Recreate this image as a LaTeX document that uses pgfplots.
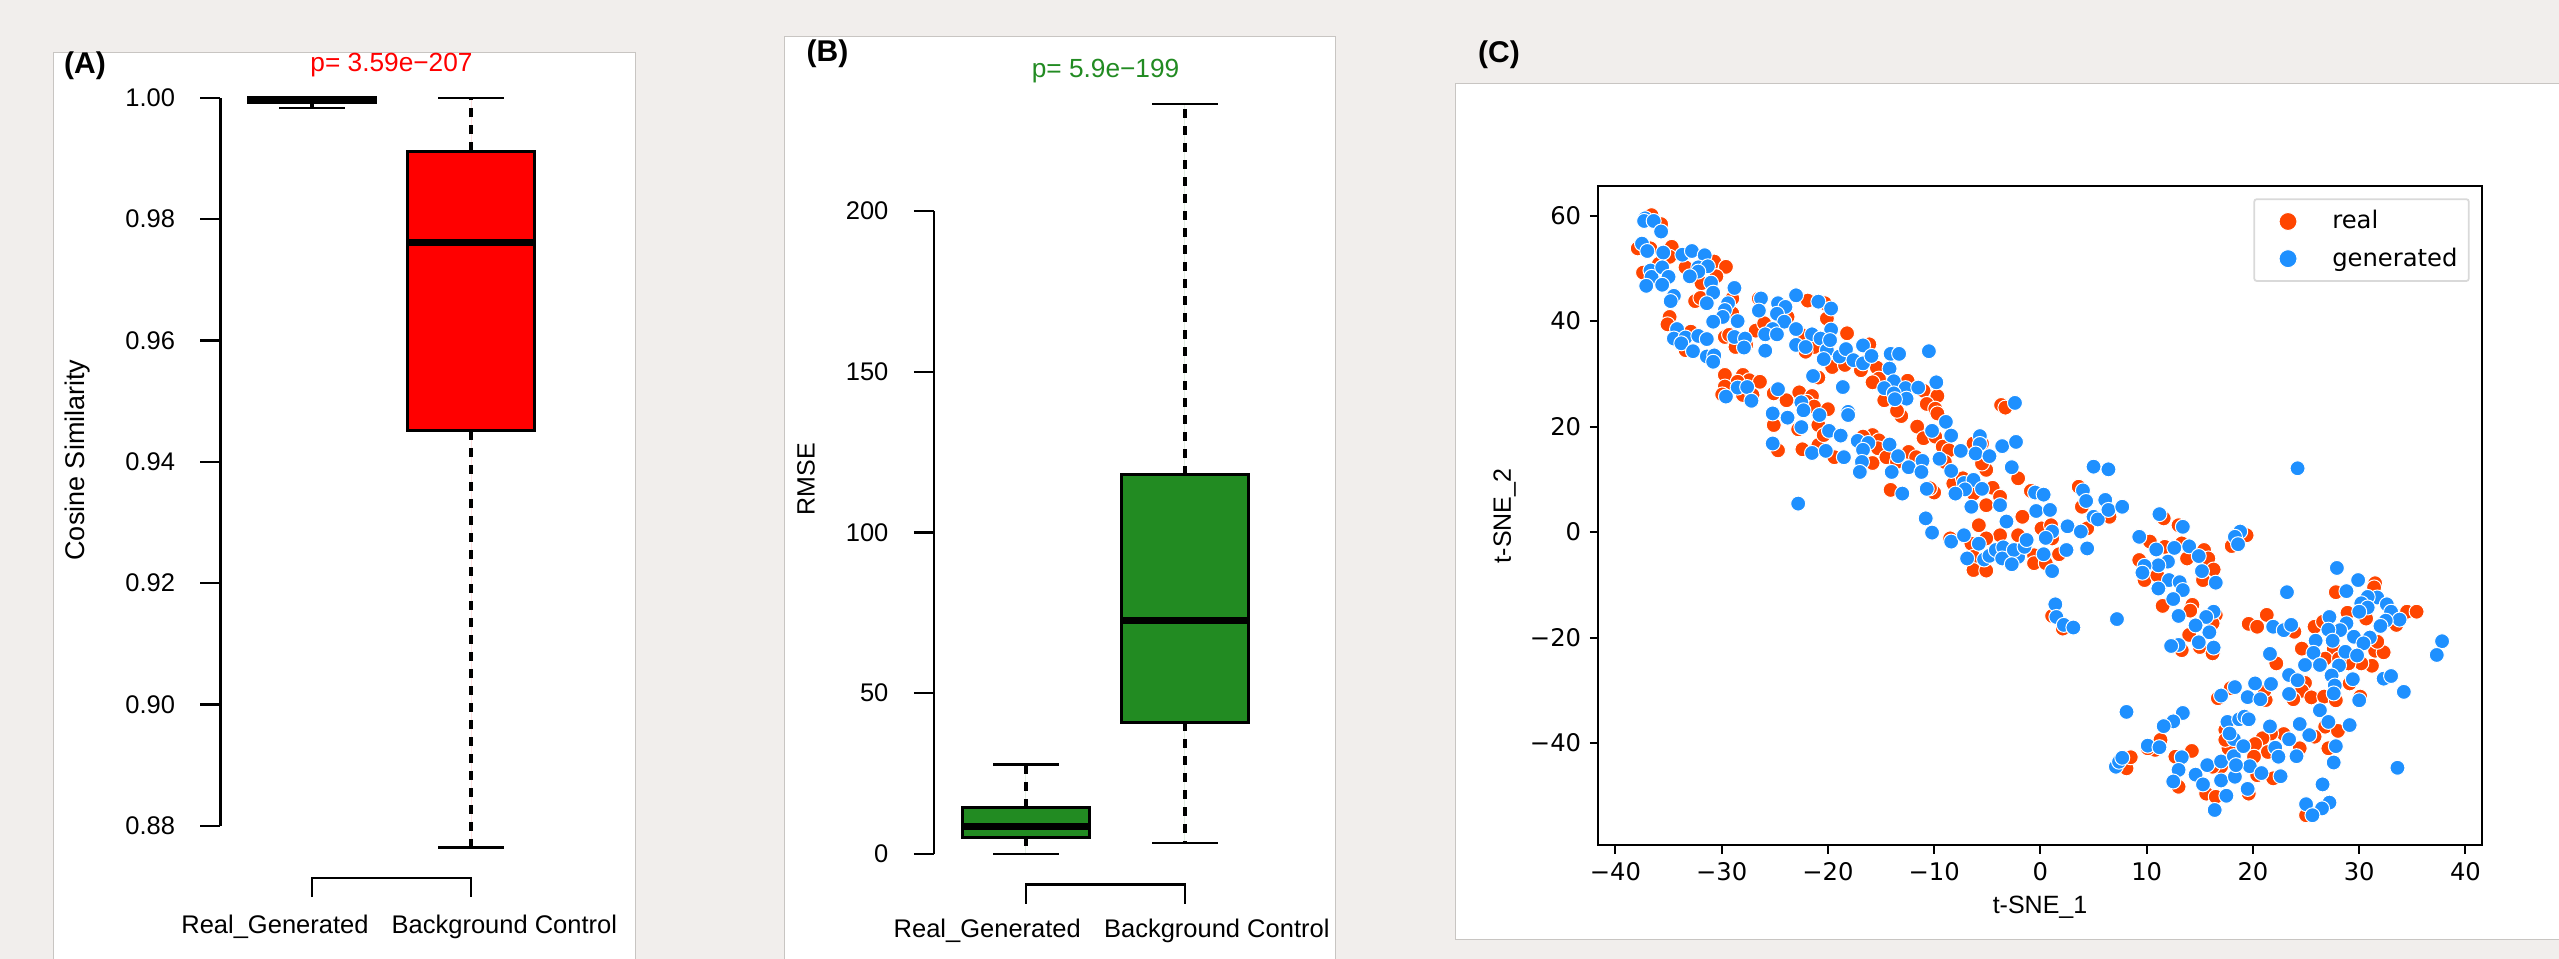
\documentclass[border=0pt]{standalone}
\usepackage{fontspec}
\setmainfont{Liberation Sans}
\newfontfamily\dejavu{DejaVu Sans}
\usepackage{pgfplots}
\pgfplotsset{compat=1.18}
\usepgfplotslibrary{statistics}

\definecolor{pagebg}{HTML}{F1EEEC}
\definecolor{panelline}{HTML}{C8C5C2}
\definecolor{fgreen}{HTML}{228B22}
\definecolor{realc}{HTML}{FF4500}
\definecolor{genc}{HTML}{1E90FF}

% reference pixels to page coordinates
\newcommand{\pp}[2]{(#1*0.4pt,-#2*0.4pt)}
\newcommand{\rfont}{\fontsize{10.2}{12}\selectfont}
\newcommand{\pfont}{\fontsize{10.5}{12}\selectfont}
\newcommand{\pyfont}{\dejavu\fontsize{9.7}{12}\selectfont}

\pgfplotsset{
  rbox/.style={
    clip=false, scale only axis, anchor=south west,
    axis y line=left, axis x line=none,
    axis line style={-, line width=0.9pt},
    tick style={black, line width=0.9pt},
    tick align=outside, major tick length=8pt,
    /pgf/number format/assume math mode=true,
    ticklabel style={font=\rfont},
    y tick label style={inner sep=0pt, xshift=-10pt},
    scaled y ticks=false,
    label style={font=\rfont},
    every axis y label/.style={rotate=90, anchor=center},
    every axis title shift=0pt,
    boxplot/draw direction=y,
    boxplot/every whisker/.style={solid, dash pattern=on 3.6pt off 3.2pt, line width=1.3pt},
    boxplot/every box/.style={line width=1.3pt},
    boxplot/every median/.style={line width=2.7pt},
  },
  rcap/.style={black, line width=0.9pt, forget plot},
}

\begin{document}
\begin{tikzpicture}
\useasboundingbox \pp{0}{0} rectangle \pp{2559}{959};
\fill[pagebg] \pp{0}{0} rectangle \pp{2559}{959};
\filldraw[fill=white, draw=panelline, line width=0.4pt] \pp{53.6}{52.6} rectangle \pp{635}{962};
\filldraw[fill=white, draw=panelline, line width=0.4pt] \pp{784.4}{36.7} rectangle \pp{1335.3}{962};
\filldraw[fill=white, draw=panelline, line width=0.4pt] \pp{1455.7}{83.3} rectangle \pp{2562}{939};

% panel A
\begin{axis}[rbox,
  at={(220.5*0.4pt,-825.7*0.4pt)}, width=138.36pt, height=291.12pt,
  xmin=0.4245, xmax=2.6, ymin=0.88, ymax=1,
  ytick={0.88,0.90,0.92,0.94,0.96,0.98,1.00},
  yticklabel style={/pgf/number format/fixed, /pgf/number format/fixed zerofill, /pgf/number format/precision=2},
  ylabel={Cosine Similarity},
  ylabel style={at={(axis description cs:-0.4127,0.5025)}, font=\fontsize{10.8}{12}\selectfont},
  title={p= 3.59e−207},
  title style={at={(axis description cs:0.4944,1.0452)}, anchor=center, text=red, font=\pfont},
]
\addplot[boxplot prepared={draw position=1, box extend=0.8, whisker extend=0,
    median=0.9996, upper quartile=1.0, lower quartile=0.9992, upper whisker=1.0, lower whisker=0.9983},
    fill=white, draw=black] coordinates {};
\addplot[boxplot prepared={draw position=2, box extend=0.8, whisker extend=0,
    median=0.9762, upper quartile=0.9912, lower quartile=0.9451, upper whisker=1.0, lower whisker=0.8764},
    fill=red, draw=black] coordinates {};
\addplot[rcap] coordinates {(0.795,0.9983) (1.205,0.9983)};
\addplot[rcap] coordinates {(1.795,1.0) (2.205,1.0)};
\addplot[rcap] coordinates {(1.795,0.8764) (2.205,0.8764)};
\addplot[rcap] coordinates {(1,0.86824) (1,0.87143) (2,0.87143) (2,0.86824)};
\node[font=\rfont] at (axis cs:0.767,0.86336) {Real\_Generated};
\node[font=\rfont] at (axis cs:2.21,0.86336) {Background Control};
\end{axis}

% panel B
\begin{axis}[rbox,
  at={(933.9*0.4pt,-853.8*0.4pt)}, width=138.6pt, height=257.12pt,
  xmin=0.4214, xmax=2.6, ymin=0, ymax=200,
  ytick={0,50,100,150,200},
  ylabel={RMSE},
  ylabel style={at={(axis description cs:-0.369,0.583)}},
  title={p= 5.9e−199},
  title style={at={(axis description cs:0.4955,1.2174)}, anchor=center, text=fgreen, font=\pfont},
]
\addplot[boxplot prepared={draw position=1, box extend=0.8, whisker extend=0,
    median=8.6, upper quartile=14.3, lower quartile=5.1, upper whisker=27.8, lower whisker=0},
    fill=fgreen, draw=black] coordinates {};
\addplot[boxplot prepared={draw position=2, box extend=0.8, whisker extend=0,
    median=72.5, upper quartile=118, lower quartile=40.9, upper whisker=233.3, lower whisker=3.4},
    fill=fgreen, draw=black] coordinates {};
\addplot[rcap] coordinates {(0.795,27.8) (1.205,27.8)};
\addplot[rcap] coordinates {(0.795,0) (1.205,0)};
\addplot[rcap] coordinates {(1.795,233.3) (2.205,233.3)};
\addplot[rcap] coordinates {(1.795,3.4) (2.205,3.4)};
\addplot[rcap] coordinates {(1,-15.6) (1,-9.52) (2,-9.52) (2,-15.6)};
\node[font=\rfont] at (axis cs:0.757,-24) {Real\_Generated};
\node[font=\rfont] at (axis cs:2.2,-24) {Background Control};
\end{axis}

% panel C
\begin{axis}[
  at={(1598.2*0.4pt,-845.3*0.4pt)}, anchor=south west, scale only axis,
  width=353.56pt, height=263.84pt,
  xmin=-41.62, xmax=41.57, ymin=-59.4, ymax=65.69,
  axis line style={line width=0.8pt},
  tick style={black, line width=0.8pt},
  tick align=outside, major tick length=3.3pt,
  xtick pos=bottom, ytick pos=left,
  xtick={-40,-30,...,40}, ytick={-40,-20,...,60},
  xticklabels={−40,−30,−20,−10,0,10,20,30,40},
  yticklabels={−40,−20,0,20,40,60},
  ticklabel style={font=\pyfont},
  xlabel={t-SNE\_1}, ylabel={t-SNE\_2},
  label style={font=\pyfont},
  every axis x label/.style={at={(axis description cs:0.4998,-0.0935)}, anchor=center},
  every axis y label/.style={at={(axis description cs:-0.1059,0.4992)}, rotate=90, anchor=center},
  legend cell align=left,
  legend image code/.code={\path[draw=none] (-11pt,0pt) -- (15.7pt,0pt);\draw[#1, mark size=3.6pt] plot coordinates {(0cm,0cm)};},
  legend style={at={(0.9859,0.9809)}, anchor=north east, font=\pyfont,
    draw=black!15, line width=0.7pt, rounded corners=1pt,
    inner xsep=2.5pt, inner ysep=2.5pt, row sep=2pt},
  real/.style={only marks, mark=*, mark size=3pt, mark options={fill=realc, draw=white, line width=0.4pt}},
  gen/.style={only marks, mark=*, mark size=3pt, mark options={fill=genc, draw=white, line width=0.4pt}},
]
\addplot[real] coordinates {
(-36.6,60.1)(-35.7,58.4)(-37.9,53.8)(-36.7,53.8)(-34.7,54.1)(-34.9,52.2)(-35.9,50.9)(-37.4,49.2)
(-30.7,51.3)(-29.6,50.3)(-33.4,50.2)(-30.5,48.5)(-31.9,47.2)(-32.5,43.8)(-32.0,44.4)(-34.9,40.8)
(-35.1,39.4)(-29.0,44.3)(-29.0,41.5)(-32.9,38.0)(-33.4,34.5)(-29.7,37.0)(-29.3,37.4)(-26.8,38.2)
(-26.0,39.6)(-27.7,35.5)(-28.7,35.1)(-23.8,40.8)(-26.5,44.3)(-21.9,43.9)(-20.3,43.4)(-20.1,40.5)
(-22.5,37.4)(-21.3,35.1)(-22.1,34.2)(-18.2,37.7)(-16.1,35.6)(-19.6,31.3)(-18.4,31.7)(-16.9,30.7)
(-15.4,31.2)(-15.2,29.1)(-15.8,28.4)(-12.5,28.7)(-11.0,26.8)(-9.7,25.8)(-10.7,24.3)(-9.9,23.4)
(-9.7,22.5)(-13.1,22.0)(-13.5,23.0)(-14.7,25.0)(-11.6,20.0)(-11.0,17.8)(-9.9,18.1)(-9.2,16.2)
(-8.6,15.5)(-9.0,13.3)(-20.9,29.3)(-29.7,29.8)(-28.0,29.8)(-27.4,28.8)(-26.4,28.5)(-28.5,28.5)
(-29.7,27.6)(-29.95,26.1)(-28.0,26.0)(-27.1,26.0)(-25.1,26.3)(-23.9,25.0)(-22.7,26.5)(-21.5,25.8)
(-22.0,24.7)(-21.3,23.8)(-20.0,23.3)(-20.9,20.3)(-22.8,19.5)(-25.1,20.3)(-24.7,15.5)(-22.4,15.7)
(-20.9,16.5)(-20.4,18.4)(-19.4,14.2)(-15.8,18.4)(-16.7,18.1)(-15.2,17.4)(-15.3,15.9)(-15.8,13.1)
(-14.5,14.2)(-12.4,15.2)(-11.7,14.2)(-13.5,13.3)(-14.1,8.0)(-10.0,7.5)(-10.4,8.3)(-8.2,9.2)
(-7.3,10.2)(-6.3,7.3)(-5.1,11.8)(-4.5,8.4)(-5.1,5.1)(-3.8,6.7)(-5.8,1.3)(-3.8,-0.6)
(-8.5,-1.2)(-6.5,-2.2)(-5.1,-1.2)(-6.3,-4.7)(-6.3,-7.2)(-5.1,-7.3)(-5.5,16.8)(-6.3,16.8)
(-5.5,13.0)(-3.7,24.1)(-3.3,23.6)(-2.1,10.2)(-0.9,7.8)(3.6,8.6)(3.9,4.8)
(-1.7,2.9)(0.1,0.7)(-2.1,-0.6)(-0.6,-4.4)(-0.6,-5.9)(0.5,-5.9)(1.75,-4.2)(1.1,-1.2)
(1.0,1.3)(4.4,0.7)(6.5,2.9)(1.1,-15.9)(2.1,-18.3)(11.6,2.6)(13.0,1.3)(10.3,-1.8)
(9.3,-5.3)(9.8,-9.1)(11.0,-8.2)(11.7,-2.8)(13.3,-2.15)(13.8,-5.0)(15.4,-3.4)(15.8,-5.0)
(16.3,-7.1)(15.3,-9.1)(11.5,-14.0)(14.3,-13.8)(14.1,-14.9)(16.5,-15.7)(16.2,-17.3)(14.0,-19.5)
(15.0,-21.8)(13.3,-22.4)(16.2,-23.0)(19.6,-17.4)(20.4,-17.95)(21.3,-15.7)(19.4,-0.6)(18.0,-2.65)
(23.9,-18.9)(27.8,-11.4)(31.5,-9.7)(31.4,-10.5)(28.9,-15.3)(30.65,-16.4)(34.5,-15.1)(35.4,-15.1)
(33.5,-17.6)(25.8,-17.95)(26.6,-17.0)(24.6,-22.1)(31.5,-22.5)(32.3,-22.8)(31.7,-20.8)(31.2,-25.35)
(30.2,-24.9)(29.0,-24.9)(27.6,-22.1)(26.8,-24.0)(28.1,-24.0)(22.2,-24.9)(24.9,-28.6)(24.6,-30.1)
(25.5,-31.35)(26.7,-31.2)(27.8,-31.9)(30.1,-31.2)(23.8,-31.7)(29.1,-28.7)(26.8,-36.9)(28.0,-37.7)
(27.1,-41.0)(25.8,-38.8)(24.4,-41.0)(22.9,-38.3)(21.7,-38.2)(20.9,-39.1)(20.2,-40.2)(21.4,-41.7)
(20.1,-42.6)(21.9,-46.7)(17.7,-41.0)(17.9,-29.6)(21.2,-31.85)(21.1,-30.0)(16.7,-31.5)(14.25,-41.5)
(12.7,-42.6)(11.3,-39.4)(10.8,-41.3)(10.1,-41.0)(8.1,-44.8)(8.5,-42.7)(17.4,-37.5)(17.4,-39.4)
(17.0,-44.5)(16.2,-44.5)(20.4,-46.1)(15.6,-49.6)(16.5,-50.2)(19.6,-49.6)(13.0,-48.3)(25.0,-53.7)
};
\addlegendentry{real}
\addplot[gen] coordinates {
(-37.2,59.5)(-37.3,59.0)(-36.4,59.0)(-35.7,57.0)(-37.5,54.7)(-37.0,53.3)(-35.5,53.0)(-33.7,52.6)
(-32.8,53.3)(-31.6,52.5)(-32.2,50.2)(-31.3,50.4)(-32.2,49.4)(-33.0,48.5)(-36.7,49.6)(-36.6,48.4)
(-35.6,50.2)(-35.0,48.4)(-37.1,46.7)(-35.6,46.9)(-31.0,47.3)(-30.8,45.4)(-28.8,46.3)(-34.5,44.8)
(-34.8,43.8)(-29.4,43.4)(-31.4,43.4)(-29.7,42.1)(-29.9,40.8)(-30.8,39.9)(-28.5,40.0)(-26.3,44.3)
(-26.5,42.0)(-24.7,43.4)(-24.0,42.7)(-24.8,41.4)(-24.1,39.9)(-25.2,38.5)(-23.0,44.9)(-20.9,43.7)
(-19.7,42.4)(-23.0,38.5)(-25.9,37.5)(-24.8,37.5)(-21.5,37.5)(-19.7,38.4)(-20.7,36.7)(-28.8,37.0)
(-27.8,36.7)(-27.9,35.0)(-34.2,38.5)(-34.5,36.7)(-33.4,36.9)(-33.8,35.8)(-32.2,37.2)(-31.4,36.6)
(-32.7,34.3)(-31.4,33.3)(-30.7,33.5)(-30.8,32.3)(-25.9,34.4)(-23.0,35.5)(-22.1,35.1)(-20.1,34.5)
(-19.8,36.4)(-20.4,32.8)(-18.9,33.3)(-18.3,34.7)(-16.7,35.4)(-17.6,32.6)(-16.7,32.0)(-15.9,33.4)
(-14.1,33.8)(-13.3,33.8)(-10.5,34.3)(-14.2,31.0)(-21.4,29.6)(-18.6,27.5)(-13.8,28.6)(-14.7,27.3)
(-12.7,27.3)(-13.8,26.3)(-12.6,25.3)(-13.7,25.2)(-11.5,27.4)(-9.8,28.4)(-8.9,20.9)(-10.2,19.2)
(-8.4,18.3)(-28.5,27.4)(-27.6,27.5)(-29.6,25.7)(-27.2,24.9)(-24.7,27.1)(-22.5,24.6)(-22.3,23.1)
(-25.2,22.5)(-23.8,21.7)(-20.8,22.2)(-22.5,19.9)(-18.1,22.8)(-18.1,22.2)(-19.9,19.2)(-18.8,18.3)
(-25.2,16.8)(-21.5,15.0)(-20.2,15.4)(-18.5,14.2)(-17.2,17.3)(-16.2,16.9)(-16.7,15.6)(-14.2,16.6)
(-13.4,14.4)(-16.8,13.3)(-17.0,11.4)(-14.0,11.4)(-12.4,12.3)(-11.1,13.5)(-11.2,11.4)(-9.5,13.9)
(-7.5,15.4)(-8.4,11.6)(-5.7,18.2)(-5.7,16.7)(-6.1,14.9)(-4.8,14.4)(-3.6,16.3)(-7.2,9.3)
(-6.3,9.9)(-7.1,8.1)(-5.5,8.2)(-8.0,7.3)(-10.7,8.2)(-13.0,7.3)(-6.5,4.8)(-3.8,5.1)
(-3.2,2.0)(-10.8,2.6)(-10.2,-0.1)(-8.4,-1.8)(-7.2,-0.6)(-22.8,5.4)(-5.8,-2.2)(-6.9,-5.0)
(-5.3,-5.2)(-4.8,-4.5)(-4.2,-3.4)(-3.5,-2.9)(-3.6,-5.0)
(-2.4,24.5)(-2.3,17.1)(-2.7,12.3)(5.0,12.4)(6.4,11.9)(24.2,12.1)(-0.5,7.5)(0.3,7.1)
(4.0,7.9)(4.3,5.9)(6.1,6.1)(-0.4,4.0)(0.9,4.2)(2.55,1.1)(3.8,0.1)(5.0,2.9)
(5.4,2.4)(6.4,4.2)(7.7,4.8)(1.1,0.1)(0.5,-1.1)(2.45,-3.4)(4.4,-3.1)(0.3,-4.2)
(-2.1,-4.7)(-2.5,-3.4)(-1.5,-2.8)(-1.3,-1.5)(-2.7,-6.1)(1.1,-7.4)(1.4,-13.7)(1.5,-16.1)
(2.2,-17.6)(3.1,-18.1)(7.2,-16.5)(11.2,3.4)(13.4,1.0)(9.3,-0.9)(10.9,-3.3)(12.6,-3.0)
(14.0,-2.7)(14.9,-4.55)(15.2,-7.4)(16.5,-9.6)(12.0,-5.6)(11.1,-6.3)(9.8,-6.4)(9.6,-7.7)
(12.1,-9.1)(13.1,-9.5)(13.4,-11.0)(11.1,-10.7)(12.5,-12.7)(13.0,-15.9)(16.3,-15.1)(15.6,-16.1)
(14.6,-17.7)(15.9,-19.0)(14.9,-20.9)(16.3,-21.9)(13.0,-21.4)(12.3,-21.6)(18.8,0.1)(18.3,-0.9)
(18.6,-2.3)(23.2,-11.4)(27.9,-6.8)(29.9,-9.1)(28.8,-11.2)(31.7,-12.4)(30.8,-12.3)(30.2,-13.5)
(32.6,-13.7)(30.8,-14.3)(30.0,-15.1)(33.0,-15.1)(33.8,-16.6)(32.5,-16.8)(32.0,-17.8)(27.2,-16.1)
(28.8,-17.3)(28.2,-18.6)(27.1,-18.5)(29.5,-19.85)(31.0,-20.0)(30.4,-21.1)(27.5,-20.6)(25.9,-20.6)
(28.7,-22.7)(25.7,-22.9)(29.8,-23.4)(24.9,-25.2)(26.3,-25.2)(28.1,-25.3)(27.4,-27.2)(29.4,-27.9)
(27.7,-29.1)(27.6,-30.6)(30.0,-31.9)(32.3,-27.8)(33.0,-27.3)(34.2,-30.3)(26.3,-33.8)(27.1,-36.0)
(29.1,-36.6)(25.3,-38.5)(24.4,-36.4)(27.8,-40.6)(27.6,-43.7)(33.6,-44.7)(37.8,-20.7)(37.3,-23.3)
(21.9,-17.95)(22.9,-18.6)(23.6,-17.6)(21.6,-23.1)(23.4,-27.1)(24.2,-28.1)(23.4,-30.7)(18.3,-29.4)
(17.0,-31.0)(20.2,-28.7)(21.7,-28.8)(19.5,-31.3)(20.7,-31.7)(8.1,-34.1)(13.4,-34.3)(12.5,-35.9)
(11.6,-36.8)(10.1,-40.5)(11.2,-40.8)(13.3,-42.7)(13.0,-45.1)(12.5,-47.3)(7.1,-44.5)(7.4,-43.55)
(7.7,-42.8)(15.7,-44.2)(14.6,-46.0)(15.3,-47.85)(17.0,-43.5)(17.0,-47.1)(17.5,-50.0)(16.4,-52.7)
(18.3,-46.4)(19.5,-48.7)(18.2,-42.5)(19.7,-44.4)(20.8,-45.7)(22.6,-46.3)(22.1,-40.9)(22.4,-42.6)
(24.1,-42.5)(23.4,-39.3)(21.6,-36.85)(18.2,-39.25)(19.1,-40.6)(17.6,-36.0)(18.7,-35.5)(19.2,-35.0)
(19.6,-35.5)(17.8,-38.2)(18.4,-44.2)(26.55,-47.85)(25.0,-51.6)(27.2,-51.3)(26.5,-52.4)(25.6,-53.7)
};
\addlegendentry{generated}
\end{axis}

\node[font=\fontsize{12}{14}\selectfont\bfseries] at \pp{85}{66} {(A)};
\node[font=\fontsize{12}{14}\selectfont\bfseries] at \pp{827.5}{53.8} {(B)};
\node[font=\fontsize{12}{14}\selectfont\bfseries] at \pp{1499}{55} {(C)};
\end{tikzpicture}
\end{document}
